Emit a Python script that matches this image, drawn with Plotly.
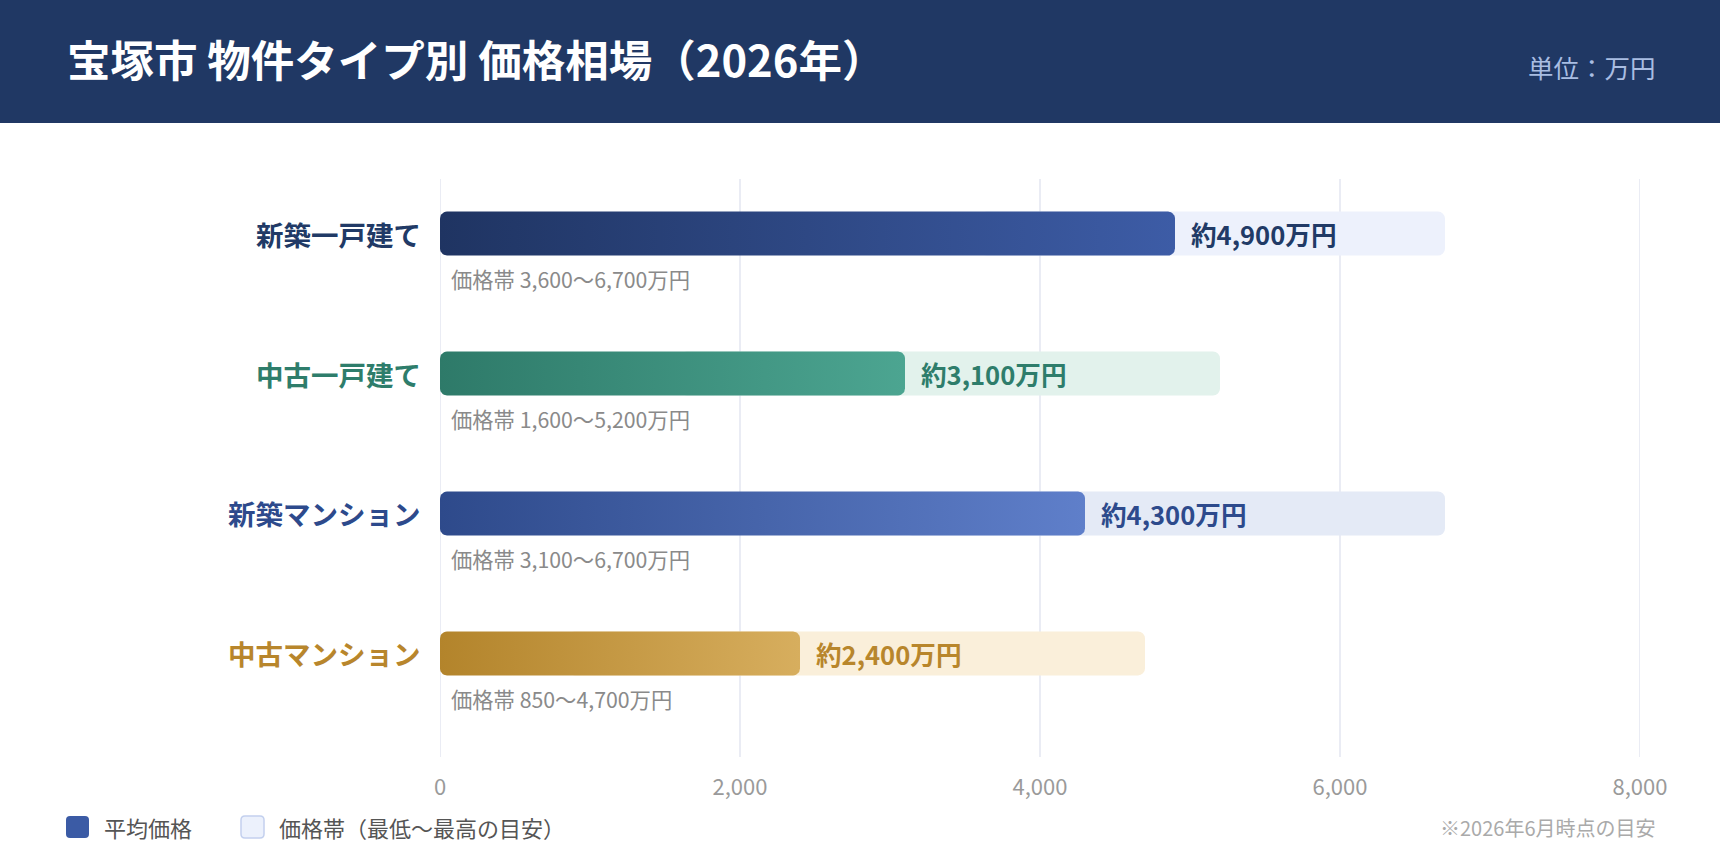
import numpy as np
import plotly.graph_objects as go

# ---------------- data ----------------
categories = ["新築一戸建て", "中古一戸建て", "新築マンション", "中古マンション"]
avg_price = [4900, 3100, 4300, 2400]
range_min = [3600, 1600, 3100, 850]
range_max = [6700, 5200, 6700, 4700]
x_ticks = [0, 2000, 4000, 6000, 8000]
x_tick_labels = ["0", "2,000", "4,000", "6,000", "8,000"]

title_text = "宝塚市 物件タイプ別 価格相場（2026年）"
unit_text = "単位：万円"
note_text = "※2026年6月時点の目安"
legend_labels = ["平均価格", "価格帯（最低〜最高の目安）"]

# ---------------- styles ----------------
grad_left = ["#1f3462", "#2e7a69", "#2e4a8b", "#b3842b"]
grad_right = ["#3d5ca6", "#4ca591", "#5f7fca", "#d7ae5e"]
light_col = ["#edf1fc", "#e2f2ec", "#e4eaf6", "#faefda"]
label_col = ["#213a66", "#2e7d6b", "#2d4a8c", "#b8862c"]

FONT = "Noto Sans CJK JP"
W, H = 1720, 860
L, R, T, B = 440, 80, 179, 103
PW, PH = W - L - R, H - T - B
X_RANGE = [0, 8000]
Y_RANGE = [3.74, -0.39]
px_per_x = PW / (X_RANGE[1] - X_RANGE[0])
px_per_y = PH / (Y_RANGE[0] - Y_RANGE[1])
BAR_W = 0.314
RADIUS = 7


def px_x(p):
    return (p - L) / PW


def px_y(p):
    return (H - B - p) / PH


def rounded_rect(x0, x1, yc, h, r_px, n=8):
    rx = r_px / px_per_x
    ry = r_px / px_per_y
    y0, y1 = yc - h / 2, yc + h / 2
    xs, ys = [], []
    corners = [
        (x1 - rx, y0 + ry, -np.pi / 2, 0),
        (x1 - rx, y1 - ry, 0, np.pi / 2),
        (x0 + rx, y1 - ry, np.pi / 2, np.pi),
        (x0 + rx, y0 + ry, np.pi, 1.5 * np.pi),
    ]
    for cx, cy, a0, a1 in corners:
        for a in np.linspace(a0, a1, n):
            xs.append(cx + rx * np.cos(a))
            ys.append(cy + ry * np.sin(a))
    xs.append(xs[0])
    ys.append(ys[0])
    return xs, ys


fig = go.Figure()

# range bars (light)
for i in range(len(categories)):
    fig.add_trace(go.Bar(
        x=[range_max[i] - range_min[i]], base=[range_min[i]], y=[i],
        orientation="h", width=BAR_W,
        marker=dict(color=light_col[i], line=dict(width=0), cornerradius=RADIUS),
        hoverinfo="skip", showlegend=False,
    ))

# average bars (gradient)
for i in range(len(categories)):
    xs, ys = rounded_rect(0, avg_price[i], i, BAR_W, RADIUS)
    fig.add_trace(go.Scatter(
        x=xs, y=ys, mode="lines", fill="toself",
        line=dict(width=0, color=grad_right[i]),
        fillgradient=dict(type="horizontal",
                          colorscale=[[0, grad_left[i]], [1, grad_right[i]]]),
        hoverinfo="skip", showlegend=False,
    ))

annotations = []
for i, cat in enumerate(categories):
    annotations.append(dict(
        x=0, y=i, xref="x", yref="y", text=cat, showarrow=False,
        xanchor="right", yanchor="middle", xshift=-17,
        font=dict(family=FONT, size=27.5, color=label_col[i], weight="bold"),
    ))
    annotations.append(dict(
        x=avg_price[i], y=i, xref="x", yref="y",
        text=f"約{avg_price[i]:,}万円", showarrow=False,
        xanchor="left", yanchor="middle", xshift=14,
        font=dict(family=FONT, size=25.6, color=label_col[i], weight="bold"),
    ))
    annotations.append(dict(
        x=0, y=i, xref="x", yref="y",
        text=f"価格帯 {range_min[i]:,}〜{range_max[i]:,}万円", showarrow=False,
        xanchor="left", yanchor="middle", xshift=9, yshift=-45,
        font=dict(family=FONT, size=21.3, color="#8a8a8a"),
    ))

# header
annotations.append(dict(
    x=px_x(65), y=px_y(59), xref="paper", yref="paper", text=title_text,
    showarrow=False, xanchor="left", yanchor="middle",
    font=dict(family=FONT, size=43.5, color="#ffffff", weight="bold"),
))
annotations.append(dict(
    x=px_x(1658), y=px_y(66), xref="paper", yref="paper", text=unit_text,
    showarrow=False, xanchor="right", yanchor="middle",
    font=dict(family=FONT, size=25.5, color="#a9bde2"),
))
# legend texts
annotations.append(dict(
    x=px_x(102), y=px_y(827), xref="paper", yref="paper", text=legend_labels[0],
    showarrow=False, xanchor="left", yanchor="middle",
    font=dict(family=FONT, size=22, color="#555555"),
))
annotations.append(dict(
    x=px_x(277), y=px_y(827), xref="paper", yref="paper", text=legend_labels[1],
    showarrow=False, xanchor="left", yanchor="middle",
    font=dict(family=FONT, size=22, color="#555555"),
))
annotations.append(dict(
    x=px_x(1658), y=px_y(827), xref="paper", yref="paper", text=note_text,
    showarrow=False, xanchor="right", yanchor="middle",
    font=dict(family=FONT, size=20, color="#aaaaaa"),
))


def rounded_path(x0p, y0p, x1p, y1p, r):
    # pixel coords -> paper path with rounded corners
    pts = lambda x, y: f"{px_x(x)},{px_y(y)}"
    return (f"M {pts(x0p + r, y0p)} L {pts(x1p - r, y0p)} Q {pts(x1p, y0p)} {pts(x1p, y0p + r)} "
            f"L {pts(x1p, y1p - r)} Q {pts(x1p, y1p)} {pts(x1p - r, y1p)} "
            f"L {pts(x0p + r, y1p)} Q {pts(x0p, y1p)} {pts(x0p, y1p - r)} "
            f"L {pts(x0p, y0p + r)} Q {pts(x0p, y0p)} {pts(x0p + r, y0p)} Z")


shapes = [
    dict(type="rect", xref="paper", yref="paper", x0=px_x(0), x1=px_x(W),
         y0=px_y(123), y1=px_y(0), fillcolor="#203864", line=dict(width=0), layer="below"),
    dict(type="path", xref="paper", yref="paper", path=rounded_path(66, 816, 89, 838, 4),
         fillcolor="#3b5ba5", line=dict(width=0)),
    dict(type="path", xref="paper", yref="paper", path=rounded_path(241, 816, 264, 838, 4),
         fillcolor="#ecf1fc", line=dict(width=1.5, color="#c3d0ee")),
]
# vertical grid lines at each tick (including the plot edges)
for tv in x_ticks:
    shapes.append(dict(type="line", xref="x", yref="paper", x0=tv, x1=tv, y0=0, y1=1,
                       line=dict(color="#e3e6f0", width=1.5), layer="below"))

fig.update_layout(
    width=W, height=H,
    margin=dict(l=L, r=R, t=T, b=B, pad=0),
    paper_bgcolor="#ffffff", plot_bgcolor="#ffffff",
    barmode="overlay",
    showlegend=False,
    font=dict(family=FONT),
    annotations=annotations,
    shapes=shapes,
    xaxis=dict(
        range=X_RANGE, tickvals=x_ticks, ticktext=x_tick_labels,
        showgrid=False,
        zeroline=False, showline=False, ticks="", ticklen=0,
        ticklabelstandoff=15,
        tickfont=dict(family=FONT, size=22, color="#9a9a9a"),
        fixedrange=True,
    ),
    yaxis=dict(
        range=Y_RANGE, showgrid=False, zeroline=False, showline=False,
        showticklabels=False, ticks="", fixedrange=True,
    ),
)

fig.write_html("out.html")
